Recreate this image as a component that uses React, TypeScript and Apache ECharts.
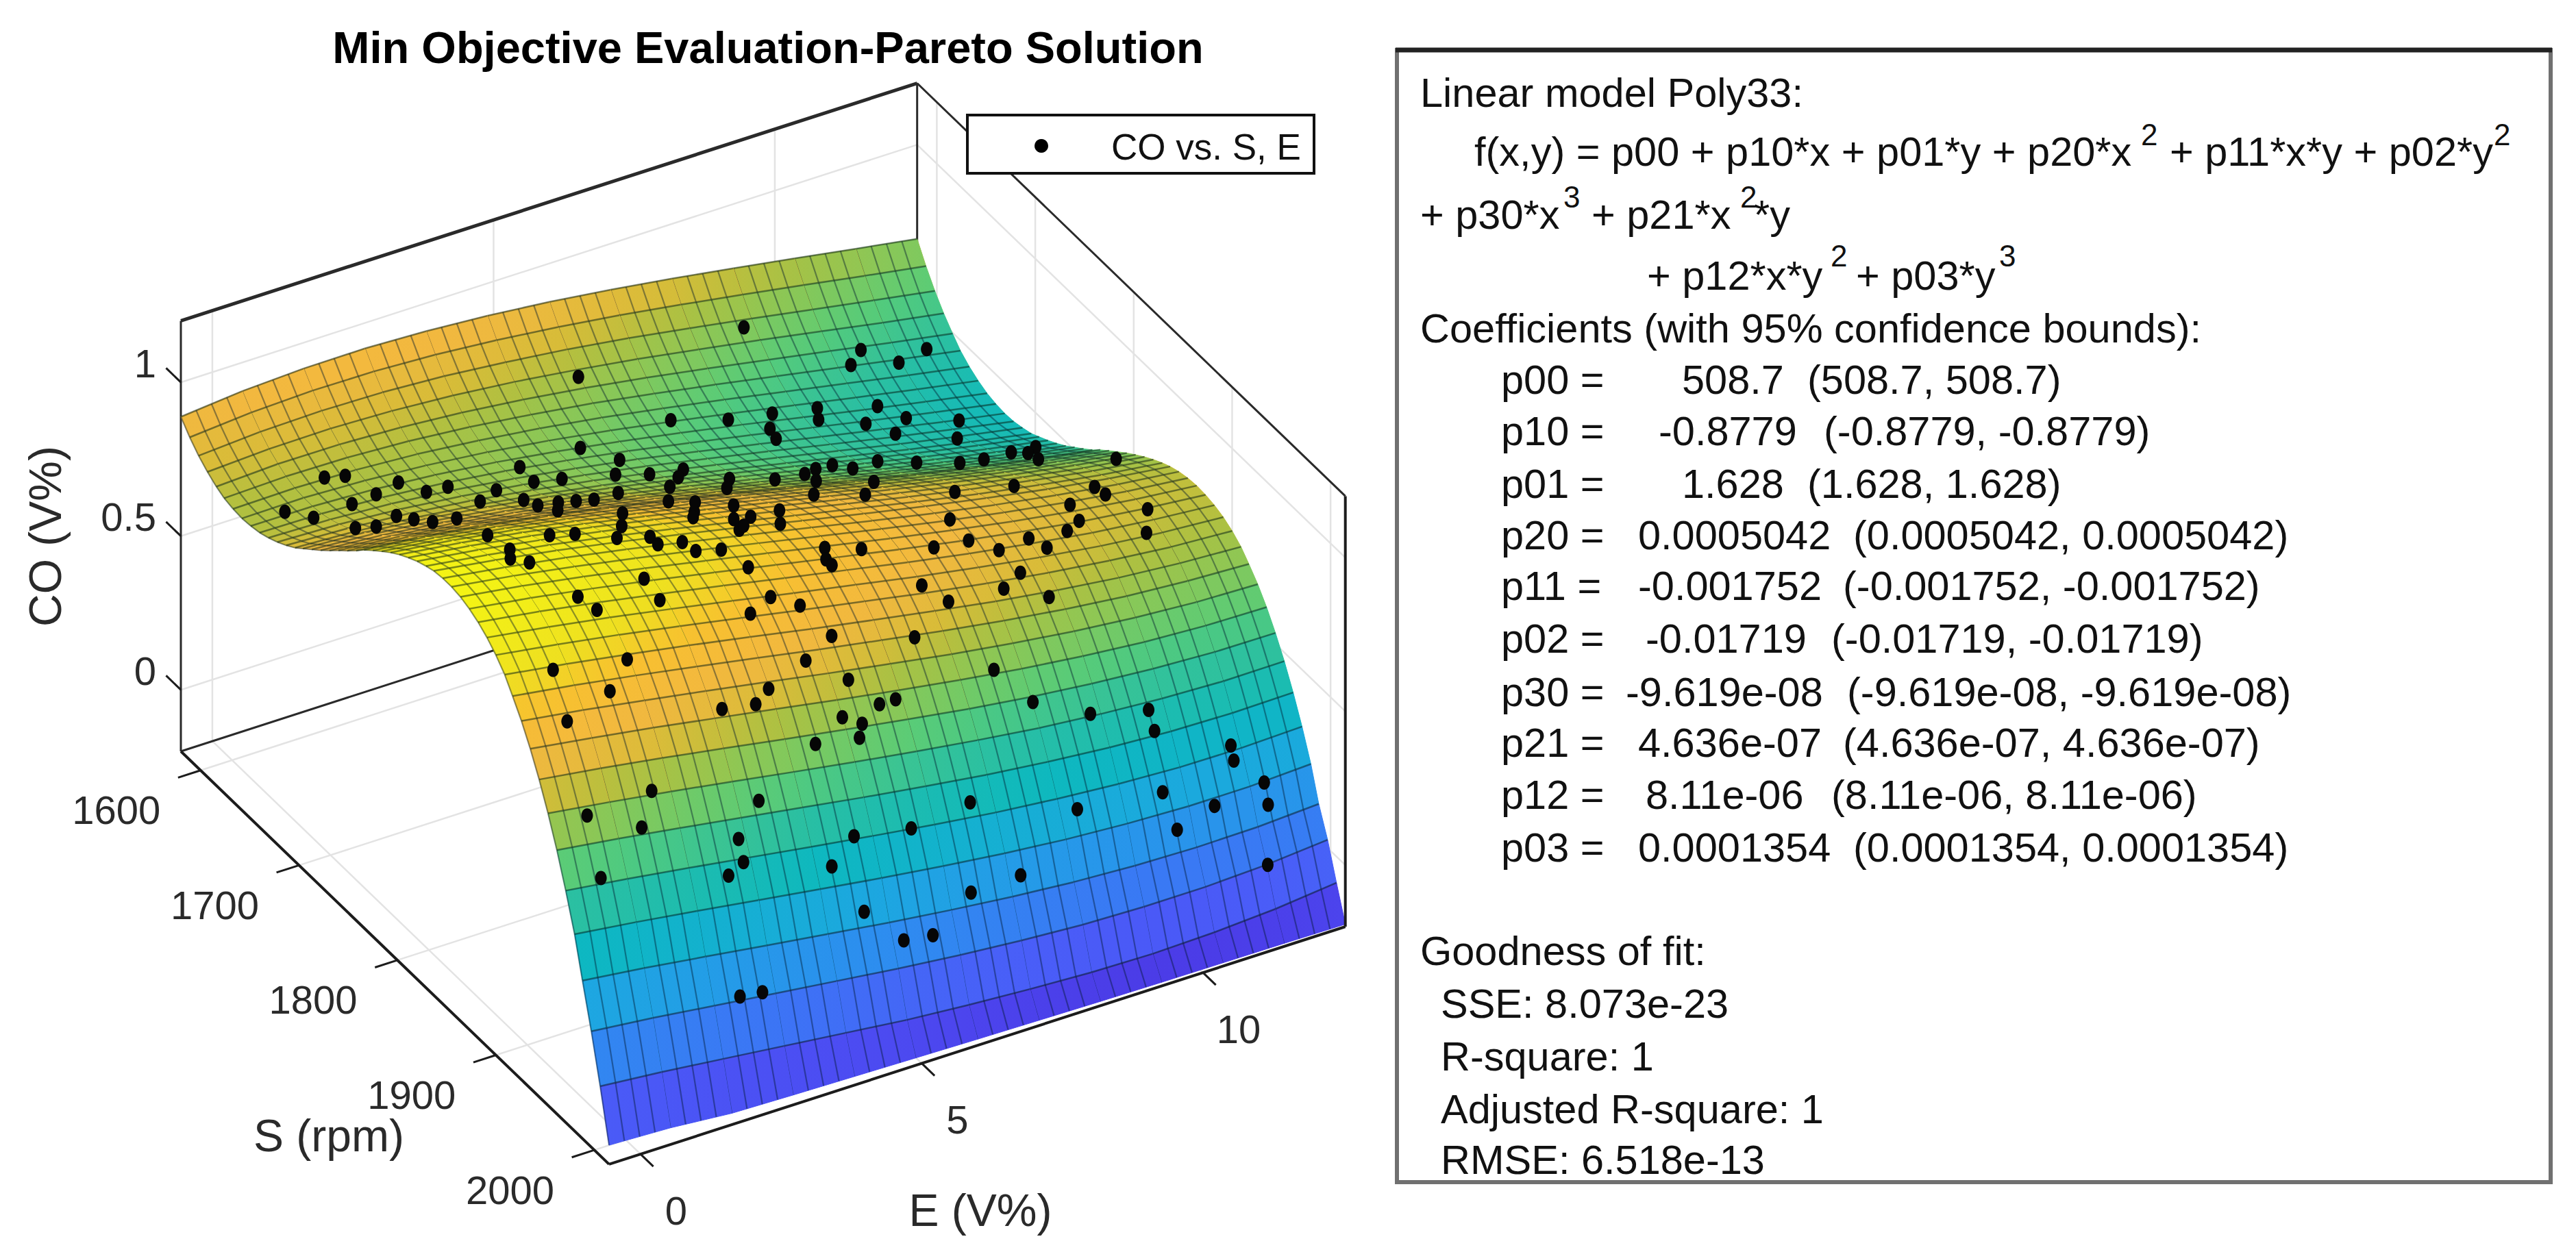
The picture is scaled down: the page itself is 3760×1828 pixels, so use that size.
import React, { useEffect, useRef } from "react";
import * as echarts from "echarts";

const eTicks = [0, 5, 10];
const sTicks = [1600, 1700, 1800, 1900, 2000];
const coTicks = [0, 0.5, 1];
const eRange = [-0.56, 12.53];
const sRange = [1580, 2015];
const coRange = [-0.2, 1.2];

const surfaceE = [-0.56, 0.53, 1.62, 2.71, 3.8, 4.89, 5.99, 7.08, 8.17, 9.26, 10.35, 11.44, 12.53];
const surfaceS = [1580, 1589, 1598, 1607, 1616, 1624, 1633, 1642, 1651, 1660, 1669, 1678, 1687, 1696, 1704, 1713, 1722, 1731, 1740, 1749, 1758, 1766, 1775, 1784, 1793, 1802, 1811, 1820, 1829, 1837, 1846, 1855, 1864, 1873, 1882, 1891, 1900, 1909, 1917, 1926, 1935, 1944, 1953, 1962, 1971, 1980, 1988, 1997, 2006, 2015];
const surfaceCO = [
[.888,.907,.916,.917,.909,.895,.875,.850,.822,.791,.759,.726,.694],
[.849,.865,.872,.870,.860,.843,.821,.795,.765,.733,.700,.666,.633],
[.817,.830,.834,.830,.818,.799,.776,.748,.716,.683,.648,.614,.580],
[.792,.802,.804,.797,.783,.763,.737,.708,.675,.641,.605,.569,.535],
[.772,.781,.780,.771,.755,.733,.706,.675,.641,.605,.569,.532,.497],
[.759,.765,.762,.751,.733,.709,.681,.648,.613,.576,.539,.502,.466],
[.752,.755,.750,.737,.717,.692,.662,.628,.592,.554,.516,.478,.442],
[.749,.751,.743,.728,.707,.680,.648,.613,.576,.537,.498,.460,.424],
[.752,.751,.742,.725,.702,.673,.640,.604,.566,.526,.486,.448,.411],
[.758,.755,.744,.726,.701,.671,.637,.599,.560,.520,.480,.441,.404],
[.769,.764,.751,.731,.704,.673,.638,.599,.559,.518,.478,.438,.401],
[.783,.776,.761,.739,.712,.679,.643,.603,.563,.521,.480,.441,.403],
[.800,.791,.775,.752,.722,.689,.651,.611,.570,.528,.486,.447,.410],
[.820,.810,.791,.767,.736,.701,.663,.622,.580,.538,.496,.456,.419],
[.842,.830,.810,.784,.753,.717,.678,.636,.594,.551,.509,.469,.433],
[.867,.853,.832,.804,.771,.735,.695,.653,.610,.567,.525,.485,.449],
[.892,.877,.854,.826,.792,.754,.714,.671,.628,.585,.543,.503,.467],
[.919,.902,.878,.849,.814,.775,.734,.691,.648,.604,.562,.523,.487],
[.947,.928,.903,.872,.837,.798,.756,.713,.669,.625,.584,.545,.510],
[.974,.955,.929,.897,.860,.821,.778,.735,.691,.648,.606,.568,.533],
[1.002,.981,.954,.921,.884,.844,.801,.757,.714,.670,.629,.591,.557],
[1.029,1.007,.979,.946,.908,.867,.824,.780,.736,.693,.653,.615,.582],
[1.055,1.032,1.003,.969,.931,.890,.847,.803,.759,.716,.676,.639,.607],
[1.080,1.056,1.026,.992,.953,.911,.868,.824,.781,.738,.699,.663,.631],
[1.104,1.079,1.048,1.013,.973,.932,.888,.845,.801,.760,.721,.685,.655],
[1.125,1.099,1.068,1.032,.992,.950,.907,.864,.821,.780,.741,.707,.677],
[1.143,1.117,1.085,1.049,1.009,.967,.924,.880,.838,.797,.760,.726,.698],
[1.159,1.132,1.099,1.063,1.023,.981,.938,.895,.853,.813,.777,.744,.717],
[1.171,1.143,1.111,1.074,1.034,.992,.949,.907,.865,.826,.791,.759,.734],
[1.180,1.151,1.118,1.081,1.041,1.000,.957,.915,.875,.837,.802,.772,.747],
[1.184,1.155,1.122,1.085,1.045,1.004,.962,.920,.880,.843,.810,.781,.758],
[1.184,1.155,1.121,1.084,1.045,1.004,.962,.921,.882,.846,.814,.786,.765],
[1.179,1.150,1.116,1.079,1.039,.999,.958,.918,.880,.845,.814,.788,.768],
[1.168,1.139,1.105,1.068,1.029,.989,.949,.910,.873,.839,.809,.785,.766],
[1.152,1.123,1.089,1.052,1.014,.974,.935,.896,.860,.828,.799,.777,.760],
[1.130,1.100,1.067,1.030,.992,.953,.915,.877,.843,.811,.784,.763,.749],
[1.101,1.071,1.038,1.002,.964,.926,.889,.852,.819,.789,.764,.744,.732],
[1.065,1.035,1.002,.967,.930,.892,.856,.821,.788,.760,.736,.719,.708],
[1.020,.991,.958,.923,.887,.850,.815,.781,.750,.723,.701,.686,.677],
[.967,.938,.905,.871,.836,.800,.766,.733,.704,.679,.659,.645,.639],
[.904,.875,.844,.810,.776,.741,.708,.677,.649,.626,.607,.596,.592],
[.832,.804,.773,.740,.706,.673,.641,.611,.585,.564,.548,.538,.536],
[.750,.722,.692,.660,.627,.595,.565,.537,.512,.493,.479,.471,.472],
[.658,.631,.601,.570,.539,.508,.479,.452,.430,.412,.400,.395,.398],
[.554,.528,.499,.469,.439,.410,.382,.357,.337,.321,.311,.309,.315],
[.440,.415,.387,.358,.329,.301,.275,.252,.233,.220,.212,.212,.221],
[.314,.290,.263,.235,.208,.181,.157,.136,.119,.108,.103,.105,.116],
[.177,.156,.131,.107,.083,.059,.038,.021,.008,.002,.002,.010,.027],
[.026,.008,-.014,-.036,-.058,-.080,-.096,-.109,-.119,-.123,-.118,-.106,-.085],
[-.138,-.146,-.163,-.168,-.172,-.176,-.180,-.183,-.186,-.188,-.189,-.190,-.192],
];

const pointE = [9.1,6.0,10.9,12.0,11.4,10.6,7.1,8.0,8.8,8.6,8.5,9.6,9.5,10.6,10.9,10.2,10.5,11.7,11.3,5.3,
4.1,5.7,5.4,5.9,6.5,6.2,6.9,12.1,11.7,11.7,11.5,12.2,10.9,10.4,10.0,9.5,8.9,8.8,8.4,8.1,
7.5,10.0,11.1,11.1,9.0,8.4,7.9,7.0,7.6,6.4,5.7,1.1,1.4,2.1,1.6,2.3,2.7,1.1,3.3,2.8,
4.0,4.5,3.4,3.3,3.7,4.0,4.3,4.8,3.2,4.8,5.1,4.7,5.4,5.9,5.6,5.0,5.3,3.6,4.4,3.2,
0.1,0.4,0.6,0.9,1.4,1.5,1.5,2.0,1.2,1.9,2.3,2.8,3.3,3.3,3.7,3.8,4.2,4.8,5.0,1.0,
0.8,1.0,5.9,5.8,5.8,6.5,4.4,7.7,8.3,8.7,9.3,9.5,10.4,10.3,10.0,11.5,11.2,8.3,2.6,1.3,
1.5,2.6,4.5,4.9,4.0,7.1,7.4,8.4,8.8,9.1,5.2,0.3,1.6,4.6,6.5,5.7,7.7,5.2,3.8,1.1,
3.5,2.9,5.9,8.2,9.1,10.1,10.1,0.2,4.9,5.2,5.1,4.3,11.3,11.3,1.3,3.1,6.7,8.5,10.0,11.7,
10.8,11.7,0.1,1.0,2.6,4.6,5.6,10.1,2.6,2.3,0.1,4.1,7.3,11.5,6.4,4.5,5.1,5.6,2.1,2.5];
const pointS = [1600,1609,1616,1620,1626,1623,1640,1647,1646,1655,1667,1646,1653,1650,1662,1661,1674,1670,1691,1651,
1658,1668,1681,1687,1687,1699,1711,1725,1723,1740,1762,1801,1741,1745,1724,1713,1722,1707,1713,1719,
1723,1823,1842,1853,1820,1772,1742,1791,1809,1737,1719,1631,1635,1649,1655,1666,1665,1659,1680,1692,
1678,1678,1702,1722,1720,1721,1722,1718,1748,1769,1779,1801,1801,1819,1837,1824,1824,1791,1817,1813,
1648,1660,1691,1695,1687,1699,1718,1714,1791,1814,1817,1831,1836,1844,1846,1854,1857,1841,1834,1825,
1837,1845,1865,1872,1878,1868,1873,1873,1874,1882,1878,1885,1857,1872,1877,1873,1889,1855,1870,1877,
1885,1886,1890,1897,1898,1895,1905,1904,1898,1910,1912,1909,1910,1920,1922,1932,1934,1929,1928,1921,
1932,1932,1937,1945,1952,1954,1960,1929,1940,1943,1946,1947,1969,1972,1952,1958,1967,1973,1974,1980,
1981,1984,1955,1959,1966,1969,1970,1983,1971,1973,1969,1975,1984,1995,1985,1985,1991,1992,1996,1996];
const pointCO = [.67,.72,.54,.49,.50,.53,.61,.58,.55,.54,.55,.52,.51,.48,.46,.48,.47,.43,.46,.66,
.69,.65,.66,.65,.63,.66,.65,.49,.49,.54,.60,.68,.57,.60,.56,.56,.60,.57,.60,.62,
.65,.79,.78,.79,.82,.74,.68,.84,.86,.73,.72,.75,.75,.73,.74,.74,.73,.75,.73,.76,
.71,.69,.76,.81,.79,.78,.77,.75,.88,.88,.89,.95,.93,.94,.97,.98,.97,.98,1.00,1.03,
.75,.75,.80,.80,.78,.80,.85,.82,1.05,1.08,1.07,1.07,1.06,1.06,1.05,1.04,1.03,1.01,.99,1.12,
1.14,1.14,.96,.95,.95,.93,1.01,.88,.87,.84,.83,.81,.81,.81,.81,.78,.77,.88,1.07,1.11,
1.08,1.05,.96,.93,.96,.86,.82,.80,.81,.75,.86,1.03,.99,.84,.81,.67,.67,.77,.82,.95,
.80,.82,.69,.57,.50,.46,.41,.93,.70,.67,.64,.67,.32,.28,.71,.59,.40,.29,.26,.21,
.19,.15,.71,.63,.52,.42,.39,.16,.46,.44,.55,.37,.18,.00,.18,.23,.12,.11,.13,.12];

const colourLevels = [-0.2, -0.13, -0.05, 0.05, 0.12, 0.25, 0.38, 0.5, 0.6, 0.68, 0.75, 0.8, 0.88, 0.98, 1.05, 1.18];
const colourValues = ["#4828D8", "#4C48F0", "#4A5CF8", "#3A78F4", "#2E8CF0", "#1CA8E0", "#0DB8C0", "#2CC0A0", "#58CC78", "#88C858", "#B0C040", "#D8BC38", "#F2B840", "#F8C030", "#EEE020", "#F4F414"];

const FONT = "Liberation Sans";
const PANEL_LEFT = 2073, COEF_LEFT = 2191, GOOD_LEFT = 2103, PANEL_SIZE = 59.5, SUP_SIZE = 44;

const hex = (s: string) => [1, 3, 5].map((i) => parseInt(s.slice(i, i + 2), 16));
function parula(z: number) {
  if (z <= colourLevels[0]) return colourValues[0];
  for (let i = 1; i < colourLevels.length; i++) {
    if (z <= colourLevels[i]) {
      const k = (z - colourLevels[i - 1]) / (colourLevels[i] - colourLevels[i - 1]);
      const A = hex(colourValues[i - 1]), B = hex(colourValues[i]);
      return `rgb(${A.map((v, j) => Math.round(v + (B[j] - v) * k)).join(",")})`;
    }
  }
  return colourValues[colourValues.length - 1];
}

function project(e: number, s: number, co: number) {
  const u = e - eRange[0], v = s - sRange[0];
  return [264 + 82.1 * u + 1.4368 * v, 1097 - 26.5 * u + 1.386 * v - 449 * (co - coRange[0])];
}

const [E0, E1] = eRange, [S0, S1] = sRange, [C0, C1] = coRange;
const gridSegments: number[][] = [];
coTicks.forEach((c) => {
  gridSegments.push([E0, S0, c, E1, S0, c], [E1, S0, c, E1, S1, c]);
});
eTicks.forEach((e) => {
  gridSegments.push([e, S0, C0, e, S0, C1], [e, S0, C0, e, S1, C0]);
});
sTicks.forEach((s) => {
  gridSegments.push([E1, s, C0, E1, s, C1], [E0, s, C0, E1, s, C0]);
});
const backThick = [[E0, S0, C1, E1, S0, C1]];
const backBox = [[E1, S0, C1, E1, S1, C1], [E1, S0, C0, E1, S0, C1], [E0, S0, C0, E0, S0, C1], [E0, S0, C0, E1, S0, C0]];
const frontBox = [[E0, S0, C0, E0, S1, C0], [E0, S1, C0, E1, S1, C0], [E1, S1, C0, E1, S1, C1]];
const tickSegments: number[][] = [];
eTicks.forEach((e) => tickSegments.push([e, S1, C0, e, S1 + 13, C0]));
sTicks.forEach((s) => tickSegments.push([E0, s, C0, E0 - 0.4, s, C0]));
coTicks.forEach((c) => tickSegments.push([E0, S0, c, E0, S0 - 15, c]));

const coefficientRows: [string, string, string, number, number][] = [
  ["p00 =", "508.7", "(508.7, 508.7)", 2455, 2638],
  ["p10 =", "-0.8779", "(-0.8779, -0.8779)", 2421, 2662],
  ["p01 =", "1.628", "(1.628, 1.628)", 2455, 2638],
  ["p20 =", "0.0005042", "(0.0005042, 0.0005042)", 2391, 2705],
  ["p11 =", "-0.001752", "(-0.001752, -0.001752)", 2391, 2690],
  ["p02 =", "-0.01719", "(-0.01719, -0.01719)", 2402, 2673],
  ["p30 =", "-9.619e-08", "(-9.619e-08, -9.619e-08)", 2373, 2696],
  ["p21 =", "4.636e-07", "(4.636e-07, 4.636e-07)", 2391, 2690],
  ["p12 =", "8.11e-06", "(8.11e-06, 8.11e-06)", 2402, 2673],
  ["p03 =", "0.0001354", "(0.0001354, 0.0001354)", 2391, 2705],
];
const coefficientY = [554, 629, 706, 781, 855, 932, 1010, 1084, 1160, 1237];

const panelTexts: [string, number, number, number][] = [
  ["Linear model Poly33:", PANEL_LEFT, 135, PANEL_SIZE],
  ["f(x,y) = p00 + p10*x + p01*y + p20*x", 2152, 221, PANEL_SIZE],
  ["2", 3125, 196, SUP_SIZE],
  ["+ p11*x*y + p02*y", 3167, 221, PANEL_SIZE],
  ["2", 3640, 196, SUP_SIZE],
  ["+ p30*x", PANEL_LEFT, 313, PANEL_SIZE],
  ["3", 2282, 287, SUP_SIZE],
  ["+ p21*x", 2323, 313, PANEL_SIZE],
  ["2", 2540, 287, SUP_SIZE],
  ["*y", 2560, 313, PANEL_SIZE],
  ["+ p12*x*y", 2404, 402, PANEL_SIZE],
  ["2", 2672, 373, SUP_SIZE],
  ["+ p03*y", 2709, 402, PANEL_SIZE],
  ["3", 2918, 373, SUP_SIZE],
  ["Coefficients (with 95% confidence bounds):", PANEL_LEFT, 479, PANEL_SIZE],
  ["Goodness of fit:", PANEL_LEFT, 1388, PANEL_SIZE],
  ["SSE: 8.073e-23", GOOD_LEFT, 1465, PANEL_SIZE],
  ["R-square: 1", GOOD_LEFT, 1542, PANEL_SIZE],
  ["Adjusted R-square: 1", GOOD_LEFT, 1619, PANEL_SIZE],
  ["RMSE: 6.518e-13", GOOD_LEFT, 1693, PANEL_SIZE],
];

const txt = (text: string, x: number, y: number, size: number, extra: any = {}) => ({
  type: "text", x, y, z: 100, rotation: extra.rotation ?? 0,
  style: { text, fontFamily: FONT, fontSize: size, fill: extra.fill ?? "#111", align: extra.align ?? "left", verticalAlign: "middle" },
});

function segmentSeries(data: number[][], z: number, color: string, width: number) {
  return {
    type: "custom", coordinateSystem: "cartesian2d", z, clip: false, silent: true, data,
    encode: { x: 0, y: 1 },
    renderItem: (_p: any, api: any) => {
      const a = api.coord(project(api.value(0), api.value(1), api.value(2)));
      const b = api.coord(project(api.value(3), api.value(4), api.value(5)));
      return { type: "line", shape: { x1: a[0], y1: a[1], x2: b[0], y2: b[1] }, style: { stroke: color, lineWidth: width, fill: null } };
    },
  };
}

function tickLabelSeries(data: number[][], z: number) {
  return {
    type: "custom", coordinateSystem: "cartesian2d", z, clip: false, silent: true, data,
    encode: { x: 0, y: 1 },
    renderItem: (_p: any, api: any) => {
      const p = api.coord(project(api.value(0), api.value(1), api.value(2)));
      return {
        type: "text", x: p[0] + api.value(4), y: p[1] + api.value(5),
        style: { text: String(api.value(3)), fontFamily: FONT, fontSize: 58, fill: "#2a2a2a", align: api.value(6) ? "right" : "center", verticalAlign: "middle" },
      };
    },
  };
}

const surfaceCells: number[][] = [];
for (let r = 0; r < surfaceS.length - 1; r++) {
  for (let c = surfaceE.length - 2; c >= 0; c--) surfaceCells.push([r, c]);
}

export default function App() {
  const ref = useRef<HTMLDivElement>(null);
  useEffect(() => {
    if (!ref.current) return;
    document.body.style.margin = "0";
    const chart = echarts.init(ref.current, undefined, { renderer: "svg" });
    const surfaceSeries = {
      type: "custom", coordinateSystem: "cartesian2d", z: 5, clip: false, silent: true, data: surfaceCells,
      encode: { x: 0, y: 1 },
      renderItem: (_p: any, api: any) => {
        const r = api.value(0), c = api.value(1);
        const P = (i: number, j: number) => api.coord(project(surfaceE[j], surfaceS[i], surfaceCO[i][j]));
        const a = P(r, c), b = P(r, c + 1), d = P(r + 1, c + 1), e = P(r + 1, c);
        const left = parula((surfaceCO[r][c] + surfaceCO[r + 1][c]) / 2);
        const right = parula((surfaceCO[r][c + 1] + surfaceCO[r + 1][c + 1]) / 2);
        const fill = new echarts.graphic.LinearGradient(0, 0, 1, 0, [{ offset: 0, color: left }, { offset: 1, color: right }]);
        const children: any[] = [{ type: "polygon", shape: { points: [a, b, d, e] }, style: { fill, stroke: left, lineWidth: 1 } }];
        for (const k of [0, 0.25, 0.5, 0.75]) {
          children.push({
            type: "line",
            shape: { x1: a[0] + (b[0] - a[0]) * k, y1: a[1] + (b[1] - a[1]) * k, x2: e[0] + (d[0] - e[0]) * k, y2: e[1] + (d[1] - e[1]) * k },
            style: { stroke: "rgba(0,25,45,0.42)", lineWidth: 2.2, fill: null },
          });
        }
        children.push({ type: "line", shape: { x1: a[0], y1: a[1], x2: b[0], y2: b[1] }, style: { stroke: "rgba(0,25,20,0.5)", lineWidth: 2.5, fill: null } });
        return { type: "group", children };
      },
    };
    const pointSeries = {
      type: "custom", coordinateSystem: "cartesian2d", z: 6, clip: false, silent: true,
      data: pointE.map((e, i) => [e, pointS[i], pointCO[i]]), encode: { x: 0, y: 1 },
      renderItem: (_p: any, api: any) => {
        const p = api.coord(project(api.value(0), api.value(1), api.value(2)));
        return { type: "ellipse", shape: { cx: p[0], cy: p[1], rx: 8.5, ry: 10.5 }, style: { fill: "#060606" } };
      },
    };
    const graphicElements: any[] = [
      { type: "rect", z: 90, shape: { x: 2039, y: 73, width: 1684, height: 1653 }, style: { fill: "#fff", stroke: "#707070", lineWidth: 6 } },
      { type: "line", z: 91, shape: { x1: 2037, y1: 73, x2: 3725, y2: 73 }, style: { stroke: "#222", lineWidth: 7 } },
      ...panelTexts.map(([t, x, y, s]) => txt(t, x, y, s)),
    ];
    coefficientRows.forEach(([label, value, bounds, vx, bx], i) => {
      const y = coefficientY[i];
      graphicElements.push(txt(label, COEF_LEFT, y, PANEL_SIZE), txt(value, vx, y, PANEL_SIZE), txt(bounds, bx, y, PANEL_SIZE));
    });
    graphicElements.push(
      { type: "rect", z: 90, shape: { x: 1412, y: 168, width: 506, height: 85 }, style: { fill: "#fff", stroke: "#111", lineWidth: 4 } },
      { type: "circle", z: 91, shape: { cx: 1520, cy: 213, r: 10 }, style: { fill: "#000" } },
      txt("CO vs. S, E", 1622, 214, 53),
      txt("CO (V%)", 66, 783, 66, { rotation: Math.PI / 2, align: "center", fill: "#2a2a2a" }),
      txt("S (rpm)", 480, 1658, 66, { align: "center", fill: "#2a2a2a" }),
      txt("E (V%)", 1431, 1767, 66, { align: "center", fill: "#2a2a2a" }),
    );
    chart.setOption({
      animation: false,
      backgroundColor: "#fff",
      title: { text: "Min Objective Evaluation-Pareto Solution", left: 1116, top: 32, textAlign: "center", textStyle: { fontFamily: FONT, fontSize: 65, fontWeight: "bold", color: "#000" } },
      grid: { left: 0, right: 0, top: 0, bottom: 0 },
      xAxis: { type: "value", min: 0, max: 3760, show: false },
      yAxis: { type: "value", min: 0, max: 1828, inverse: true, show: false },
      graphic: { elements: graphicElements },
      series: [
        segmentSeries(gridSegments, 1, "#e3e3e3", 2.5),
        segmentSeries(backThick, 2, "#2a2a2a", 5),
        segmentSeries(backBox, 2, "#2a2a2a", 3),
        surfaceSeries,
        pointSeries,
        segmentSeries(frontBox, 7, "#1c1c1c", 4),
        segmentSeries(tickSegments, 7, "#1c1c1c", 3),
        tickLabelSeries(eTicks.map((e) => [e, S1, C0, e, 52, 82, 0]), 8),
        tickLabelSeries(sTicks.map((s) => [E0, s, C0, s, -123, 58, 0]), 8),
        tickLabelSeries(coTicks.map((c) => [E0, S0, c, c, -36, -28, 1]), 8),
      ],
    });
    return () => chart.dispose();
  }, []);
  return <div ref={ref} style={{ width: 3760, height: 1828 }} />;
}
